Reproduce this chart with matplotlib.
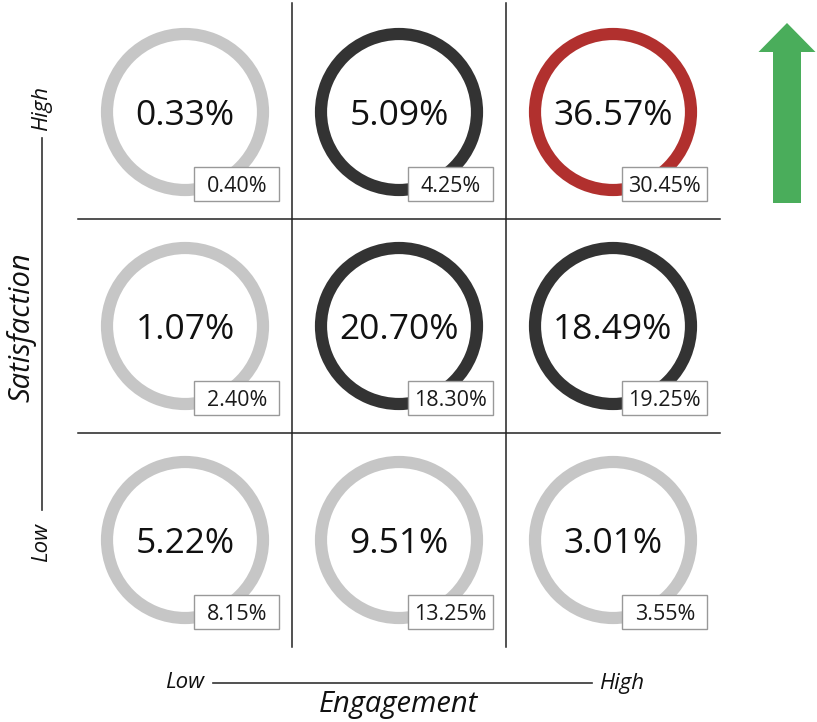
import matplotlib
matplotlib.use("Agg")
import matplotlib.pyplot as plt
import matplotlib.patches as patches

plt.rcParams['font.family'] = ['Open Sans', 'DejaVu Sans']

# Filas de arriba (satisfaccion alta) hacia abajo; columnas de compromiso bajo a alto
valores = [
    [0.33, 5.09, 36.57],
    [1.07, 20.70, 18.49],
    [5.22, 9.51, 3.01],
]
referencia = [
    [0.40, 4.25, 30.45],
    [2.40, 18.30, 19.25],
    [8.15, 13.25, 3.55],
]
tono = [
    ['gris', 'oscuro', 'rojo'],
    ['gris', 'oscuro', 'oscuro'],
    ['gris', 'gris', 'gris'],
]
colores = {'gris': '#c6c6c6', 'oscuro': '#333333', 'rojo': '#b1302e'}

CELDA = 214.0  # pixeles por celda

fig = plt.figure(figsize=(8.17, 7.22), dpi=100)
ax = fig.add_axes([0, 0, 1, 1])
ax.set_xlim(-78 / CELDA, 739 / CELDA)
ax.set_ylim(-75 / CELDA, 647 / CELDA)
ax.axis('off')

# Lineas de la cuadricula
for k in (1, 2):
    ax.plot([0, 3], [k, k], color='#222222', lw=1.1)
    ax.plot([k, k], [0, 3.01], color='#222222', lw=1.1)

# Anillos con el valor y la caja de referencia
r_ext = 0.393
grosor = 0.057
for i, fila in enumerate(valores):
    for j, v in enumerate(fila):
        cx = j + 0.5
        cy = 2.5 - i
        anillo = patches.Wedge((cx, cy), r_ext, 0, 360, width=grosor,
                               facecolor=colores[tono[i][j]], edgecolor='none')
        ax.add_patch(anillo)
        ax.text(cx, cy, f"{v:.2f}%", fontsize=25.5, ha='center',
                va='center_baseline', color='#111111')
        bx, by = cx + 0.043, cy - 0.418
        bw, bh = 0.398, 0.163
        caja = patches.Rectangle((bx, by), bw, bh, facecolor='white',
                                 edgecolor='#999999', lw=1.0)
        ax.add_patch(caja)
        ax.text(bx + bw / 2, by + bh / 2, f"{referencia[i][j]:.2f}%",
                fontsize=15.5, ha='center', va='center_baseline', color='#1a1a1a')

# Eje vertical: Satisfaction
xv = (42 - 78) / CELDA
ax.plot([xv, xv], [(647 - 510) / CELDA, (647 - 138) / CELDA], color='#333333', lw=1.2)
ax.text(xv, (647 - 108) / CELDA, "High", rotation=90, style='italic',
        fontsize=16, ha='center', va='center', color='#111111')
ax.text(xv, (647 - 542) / CELDA, "Low", rotation=90, style='italic',
        fontsize=16, ha='center', va='center', color='#111111')
ax.text((21 - 78) / CELDA, (647 - 327) / CELDA, "Satisfaction", rotation=90,
        style='italic', fontsize=21, ha='center', va='center', color='#111111')

# Eje horizontal: Engagement
yh = (647 - 683) / CELDA
ax.plot([(213 - 78) / CELDA, (592 - 78) / CELDA], [yh, yh], color='#333333', lw=1.2)
ax.text((185 - 78) / CELDA, yh, "Low", style='italic', fontsize=16,
        ha='center', va='center', color='#111111')
ax.text((622 - 78) / CELDA, yh, "High", style='italic', fontsize=16,
        ha='center', va='center', color='#111111')
ax.text((398 - 78) / CELDA, (647 - 712) / CELDA, "Engagement", style='italic',
        fontsize=21, ha='center', va='baseline', color='#111111')

# Flecha verde
flecha = patches.FancyArrow((787 - 78) / CELDA, (647 - 203) / CELDA, 0, 180 / CELDA,
                            width=28 / CELDA, head_width=57 / CELDA,
                            head_length=29 / CELDA, length_includes_head=True,
                            facecolor='#4aad5b', edgecolor='none')
ax.add_patch(flecha)

fig.savefig('out.png', dpi=100)
